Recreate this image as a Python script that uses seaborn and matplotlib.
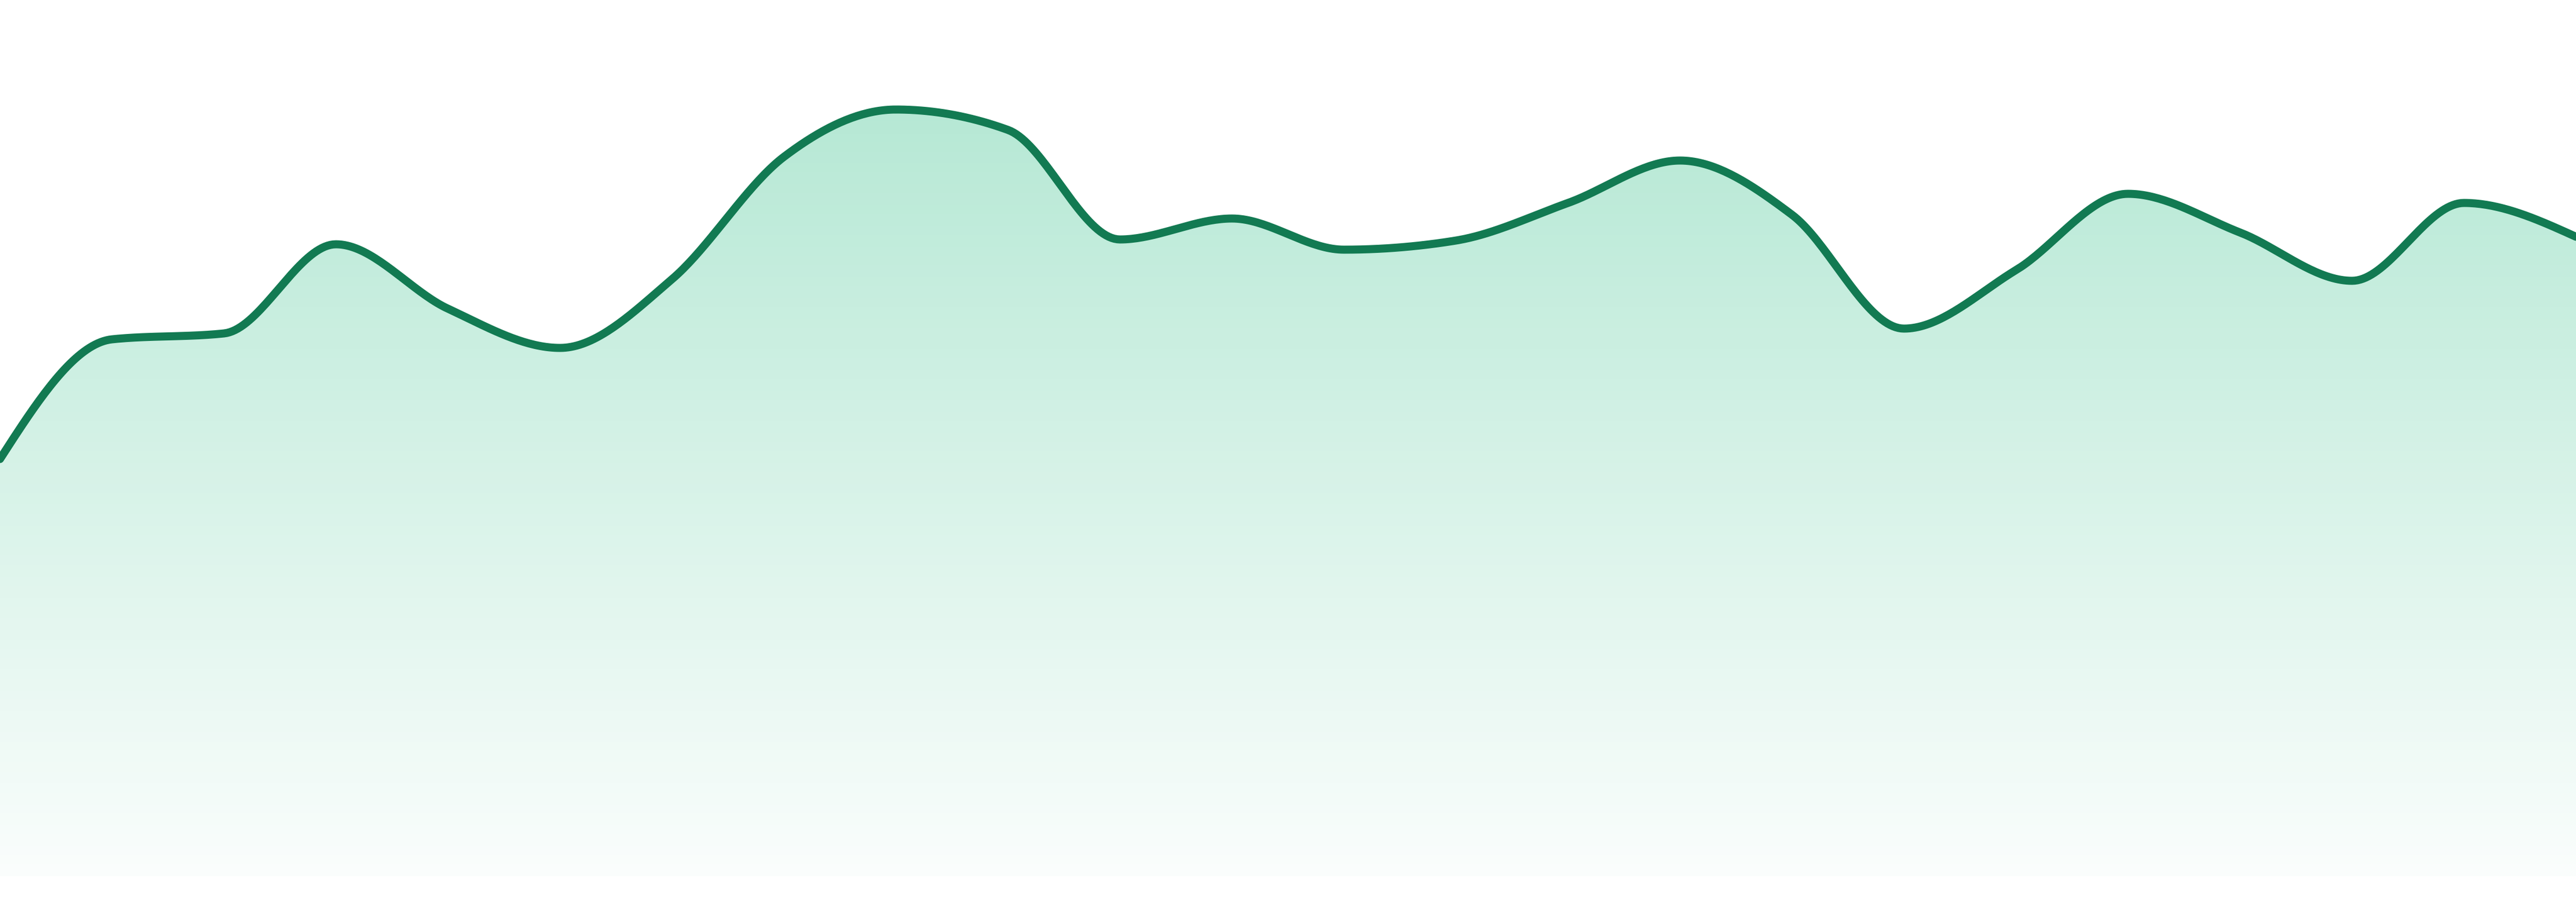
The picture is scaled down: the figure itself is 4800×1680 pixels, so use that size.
import numpy as np
import pandas as pd
import seaborn as sns
import matplotlib
matplotlib.use("Agg")
import matplotlib.pyplot as plt
from matplotlib.patches import Polygon

# values (height above the baseline)
points = list(range(24))
values = [777, 1000, 1011, 1177, 1057, 984, 1112, 1340, 1428, 1390, 1186, 1225,
          1167, 1184, 1254, 1333, 1232, 1020, 1129, 1271, 1199, 1109, 1254, 1191]

line_color = "#127a52"
fill_rgb = (18 / 255, 182 / 255, 118 / 255)


def monotone_curve(x, y, steps=40):
    """monotone cubic (same idea as d3 curveMonotoneX)"""
    x = np.asarray(x, dtype=float)
    y = np.asarray(y, dtype=float)
    h = np.diff(x)
    s = np.diff(y) / h
    n = len(x)
    t = np.zeros(n)
    for i in range(1, n - 1):
        p = (s[i - 1] * h[i] + s[i] * h[i - 1]) / (h[i - 1] + h[i])
        t[i] = (np.sign(s[i - 1]) + np.sign(s[i])) * min(abs(s[i - 1]), abs(s[i]), 0.5 * abs(p))
    t[0] = (3 * s[0] - t[1]) / 2
    t[-1] = (3 * s[-1] - t[-2]) / 2
    xs, ys = [], []
    for i in range(n - 1):
        u = np.linspace(0, 1, steps, endpoint=False)
        h00 = 2 * u**3 - 3 * u**2 + 1
        h10 = u**3 - 2 * u**2 + u
        h01 = -2 * u**3 + 3 * u**2
        h11 = u**3 - u**2
        xs.append(x[i] + u * h[i])
        ys.append(h00 * y[i] + h10 * h[i] * t[i] + h01 * y[i + 1] + h11 * h[i] * t[i + 1])
    xs.append([x[-1]])
    ys.append([y[-1]])
    return np.concatenate(xs), np.concatenate(ys)


sns.set_theme(style="white")

cx, cy = monotone_curve(points, values)
curve = pd.DataFrame({"x": cx, "y": cy})

fig = plt.figure(figsize=(16, 5.6), dpi=300)
ax = fig.add_axes([0, 0, 1, 1])
ax.set_xlim(0, 23)
ax.set_ylim(-48, 1632)

# gradient fill under the curve
top = max(values)
n_rows = 256
alpha = np.linspace(0.31, 0.02, n_rows)[:, None]
grad = np.zeros((n_rows, 1, 4))
grad[:, :, 0] = fill_rgb[0]
grad[:, :, 1] = fill_rgb[1]
grad[:, :, 2] = fill_rgb[2]
grad[:, :, 3] = alpha
img = ax.imshow(grad, extent=[0, 23, 0, top], aspect="auto", origin="upper", zorder=1)
poly = Polygon(np.column_stack([np.r_[cx, cx[-1], cx[0]], np.r_[cy, 0, 0]]),
               closed=True, facecolor="none", edgecolor="none")
ax.add_patch(poly)
img.set_clip_path(poly)

sns.lineplot(data=curve, x="x", y="y", ax=ax, color=line_color, linewidth=3.6,
             sort=False, zorder=3)

ax.set_xlim(0, 23)
ax.set_ylim(-48, 1632)
ax.axis("off")
fig.savefig("out.png", dpi=300, facecolor="white")
